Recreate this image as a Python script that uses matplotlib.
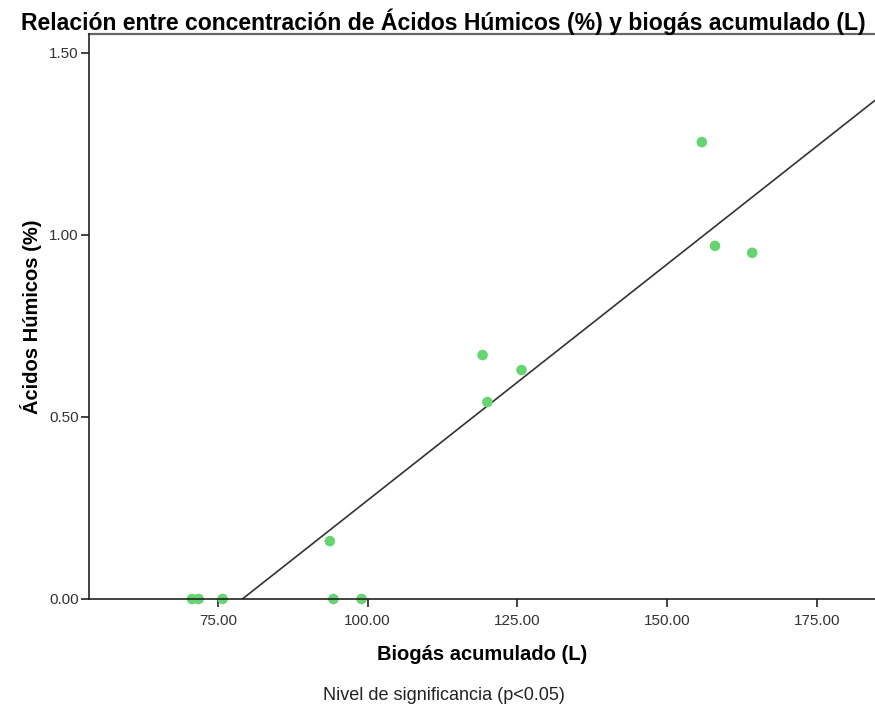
import matplotlib.pyplot as plt
import numpy as np

plt.rcParams["font.family"] = ["Liberation Sans", "DejaVu Sans"]

# Biogas acumulado (L) y Acidos Humicos (%)
biogas = [70.7, 71.8, 75.8, 93.7, 94.3, 99.0, 119.2, 120.0, 125.7, 155.8, 158.0, 164.2]
acidos = [0.0, 0.0, 0.0, 0.159, 0.0, 0.0, 0.670, 0.541, 0.629, 1.255, 0.970, 0.951]

x_ticks = [75, 100, 125, 150, 175]
y_ticks = [0.0, 0.5, 1.0, 1.5]

fig = plt.figure(figsize=(8.75, 7.13), dpi=100)
ax = fig.add_axes([89 / 875, 1 - 599 / 713, 1 - 89 / 875, (599 - 34) / 713])

x = np.array(biogas)
y = np.array(acidos)
pendiente, intercepto = np.polyfit(x, y, 1)

xmin, xmax = 53.5, 184.7
xs = np.array([xmin, xmax])
ax.plot(xs, pendiente * xs + intercepto, color="#333333", lw=1.2, zorder=2)

ax.scatter(x, y, s=58, color="#66d470", edgecolors="none", zorder=3, clip_on=False)

ax.set_xlim(xmin, xmax)
ax.set_ylim(0, 1.552)
ax.set_xticks(x_ticks)
ax.set_xticklabels([f"{v:.2f}" for v in x_ticks])
ax.set_yticks(y_ticks)
ax.set_yticklabels([f"{v:.2f}" for v in y_ticks])
ax.tick_params(direction="out", length=6, width=1.2, labelsize=11, colors="#222222",
               labelcolor="#333333")
ax.tick_params(axis="x", pad=5)
ax.tick_params(axis="y", pad=1.5)

for lado in ["left", "bottom"]:
    ax.spines[lado].set_color("#222222")
    ax.spines[lado].set_linewidth(1.2)
    ax.spines[lado].set_zorder(4)
ax.spines["top"].set_color("#666666")
ax.spines["top"].set_linewidth(1.6)
ax.spines["right"].set_visible(False)

ax.set_xlabel("Biogás acumulado (L)", fontsize=14.5, fontweight="bold", labelpad=12)
ax.set_ylabel("Ácidos Húmicos (%)", fontsize=14.5, fontweight="bold", labelpad=5)

fig.text(443 / 875, 1 - 22 / 713, "Relación entre concentración de Ácidos Húmicos (%) y biogás acumulado (L)",
         ha="center", va="center", fontsize=16.6, fontweight="bold")
fig.text(444 / 875, 1 - 696 / 713, "Nivel de significancia (p<0.05)",
         ha="center", va="center", fontsize=13, color="#222222")

fig.savefig("out.png", dpi=100)
